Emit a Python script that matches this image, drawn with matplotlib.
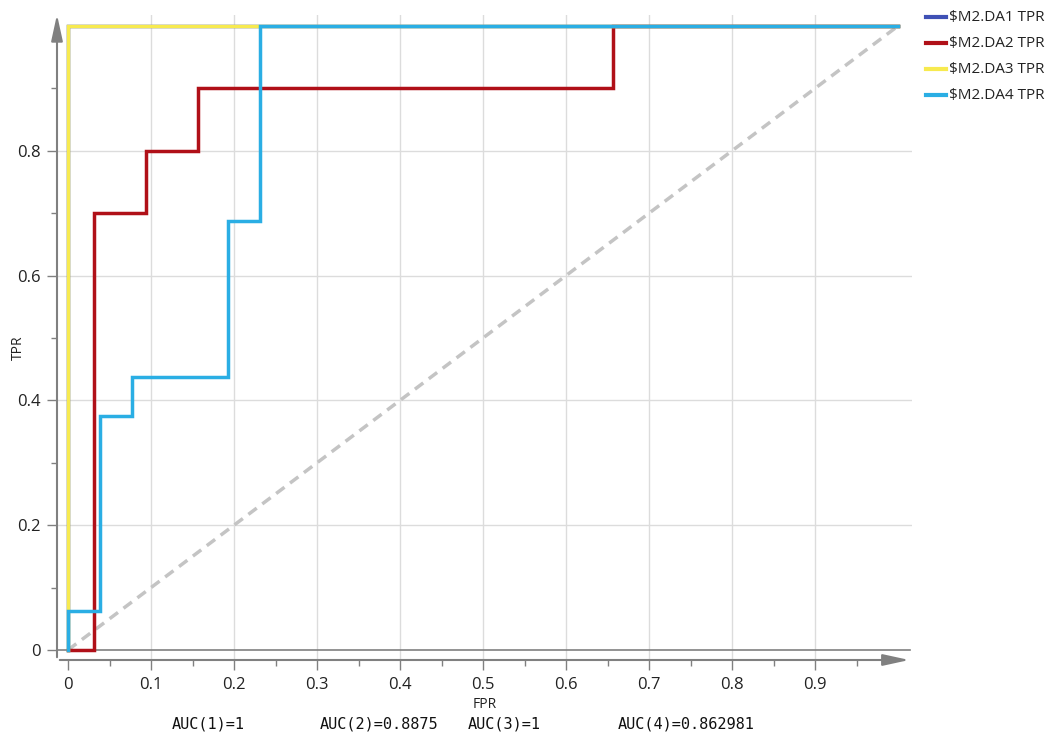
import matplotlib
matplotlib.use("Agg")
import matplotlib.pyplot as plt
from matplotlib.lines import Line2D

# ROC curve points (FPR, TPR)
da1_fpr = [0, 0, 1]
da1_tpr = [0, 1, 1]
da2_fpr = [0, 1/32, 1/32, 3/32, 3/32, 5/32, 5/32, 21/32, 21/32, 1]
da2_tpr = [0, 0, 0.7, 0.7, 0.8, 0.8, 0.9, 0.9, 1, 1]
da3_fpr = [0, 0, 1]
da3_tpr = [0, 1, 1]
da4_fpr = [0, 0, 1/26, 1/26, 2/26, 2/26, 5/26, 5/26, 6/26, 6/26, 1]
da4_tpr = [0, 1/16, 1/16, 6/16, 6/16, 7/16, 7/16, 11/16, 11/16, 1, 1]

series_names = ["$M2.DA1 TPR", "$M2.DA2 TPR", "$M2.DA3 TPR", "$M2.DA4 TPR"]
series_colors = ["#3f51b5", "#b01018", "#f7ea4f", "#2aaee4"]
auc_labels = ["AUC(1)=1", "AUC(2)=0.8875", "AUC(3)=1", "AUC(4)=0.862981"]
x_ticks = [0, 0.1, 0.2, 0.3, 0.4, 0.5, 0.6, 0.7, 0.8, 0.9]
y_ticks = [0, 0.2, 0.4, 0.6, 0.8]

W, H = 1045, 735
plt.rcParams['font.family'] = ['Open Sans', 'DejaVu Sans']
fig = plt.figure(figsize=(W / 100, H / 100), dpi=100)

# axes box in pixels: left 57, right 912, top 15, bottom 660
L, R, T, B = 57, 912, 15, 660
ax = fig.add_axes([L / W, 1 - B / H, (R - L) / W, (B - T) / H])
x0px, x1px = 68, 898   # data 0 and 1 in pixels
y0px, y1px = 650, 26
sx = (x1px - x0px)
sy = (y0px - y1px)
ax.set_xlim((L - x0px) / sx, (R - x0px) / sx)
ax.set_ylim((y0px - B) / sy, (y0px - T) / sy)

for s in ax.spines.values():
    s.set_visible(False)

grid_c = "#dcdcdc"
axis_c = "#808080"
for xv in x_ticks[1:]:
    ax.axvline(xv, color=grid_c, lw=1, zorder=0)
for yv in y_ticks[1:]:
    ax.axhline(yv, color=grid_c, lw=1, zorder=0)
ax.axhline(0, color=axis_c, lw=1.2, zorder=0.5, xmax=(910 - L) / (R - L))

# axis lines with arrows
ax.annotate("", xy=(0, 1.005), xytext=(0, 0), xycoords="axes fraction",
            arrowprops=dict(arrowstyle="-|>,head_length=1.6,head_width=0.35",
                            color=axis_c, lw=1.5), annotation_clip=False)
ax.annotate("", xy=(1.0, 0), xytext=(0, 0), xycoords="axes fraction",
            arrowprops=dict(arrowstyle="-|>,head_length=1.6,head_width=0.35",
                            color=axis_c, lw=1.5), annotation_clip=False)

# diagonal
ax.plot([0, 1], [0, 1], color="#c4c4c4", lw=2.5, ls=(0, (3, 2)), zorder=1)

curves = [(da1_fpr, da1_tpr), (da2_fpr, da2_tpr), (da3_fpr, da3_tpr), (da4_fpr, da4_tpr)]
for (fx, ty), c in zip(curves, series_colors):
    ax.plot(fx, ty, color=c, lw=2.5, zorder=2, solid_joinstyle="miter")

ax.set_xticks(x_ticks)
ax.set_xticklabels(["0" if v == 0 else f"{v:g}" for v in x_ticks])
ax.set_xticks([v + 0.05 for v in x_ticks], minor=True)
ax.set_yticks(y_ticks)
ax.set_yticklabels(["0" if v == 0 else f"{v:g}" for v in y_ticks])
ax.set_yticks([0.1, 0.3, 0.5, 0.7, 0.9], minor=True)
ax.tick_params(axis="both", which="major", length=7, width=1, color=axis_c,
               labelsize=12, labelcolor="#222222", pad=5)
ax.tick_params(axis="both", which="minor", length=4, width=1, color=axis_c)

fig.text(18 / W, 1 - 348 / H, "TPR", rotation=90, ha="center", va="center",
         fontsize=10, color="#222222")
fig.text(485 / W, 1 - 705 / H, "FPR", ha="center", va="center",
         fontsize=10, color="#222222")

auc_x = [172, 320, 468, 618]
for xp, t in zip(auc_x, auc_labels):
    fig.text(xp / W, 1 - 724 / H, t, ha="left", va="center", fontsize=11,
             family=["DejaVu Sans Mono"], color="#111111")

# legend
leg_y = [17, 43, 69, 95]
for yp, name, c in zip(leg_y, series_names, series_colors):
    fig.add_artist(Line2D([926 / W, 946 / W], [1 - yp / H] * 2, color=c, lw=3,
                          transform=fig.transFigure))
    fig.text(949 / W, 1 - yp / H, name, ha="left", va="center", fontsize=11,
             color="#222222")

fig.savefig("out.png", dpi=100)
